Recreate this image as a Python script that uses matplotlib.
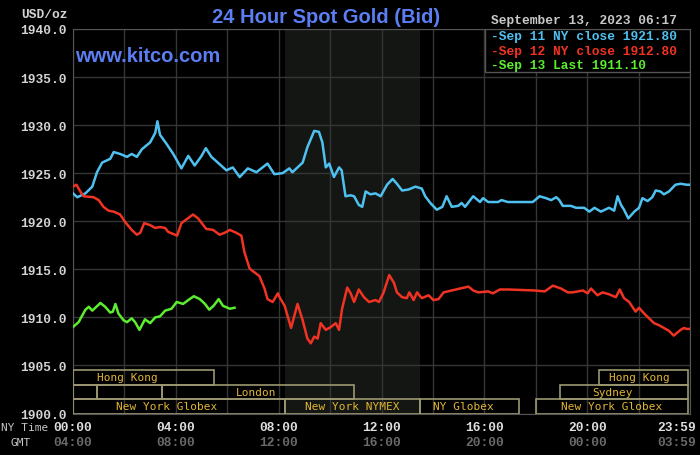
import numpy as np
import matplotlib.pyplot as plt
from matplotlib.patches import Rectangle
import matplotlib.transforms as mtransforms

# minutes after 00:00 NY time, price in USD/oz
blue_t = [0, 10, 29, 45, 56, 68, 87, 95, 110, 126,
          137, 149, 161, 180, 192, 197, 203, 219, 234, 253,
          269, 284, 300, 310, 323, 338, 358, 373, 389, 408,
          428, 454, 470, 489, 505, 512, 536, 547, 563, 574,
          582, 590, 598, 609, 621, 627, 636, 648, 656, 667,
          675, 683, 694, 706, 718, 733, 746, 756, 768, 783,
          799, 814, 822, 834, 849, 862, 872, 884, 899, 907,
          915, 934, 950, 957, 969, 992, 1000, 1015, 1073, 1089,
          1104, 1116, 1128, 1135, 1143, 1162, 1174, 1193, 1205, 1217,
          1232, 1251, 1263, 1271, 1279, 1286, 1296, 1310, 1321, 1329,
          1341, 1352, 1360, 1371, 1379, 1391, 1406, 1418, 1432, 1439]
blue_v = [1922.9, 1922.5, 1922.9, 1923.6, 1925.1, 1926.1, 1926.5, 1927.2, 1927.0, 1926.7,
          1927.0, 1926.7, 1927.5, 1928.2, 1929.2, 1930.4, 1929.0, 1928.0, 1927.0, 1925.5,
          1926.8, 1925.8, 1926.8, 1927.6, 1926.7, 1926.1, 1925.3, 1925.6, 1924.6, 1925.5,
          1925.1, 1926.0, 1924.9, 1925.0, 1925.5, 1925.1, 1926.1, 1927.7, 1929.4, 1929.3,
          1928.2, 1925.6, 1926.0, 1924.6, 1925.6, 1925.3, 1922.6, 1922.7, 1922.6, 1921.7,
          1921.5, 1923.1, 1922.8, 1922.9, 1922.6, 1923.8, 1924.4, 1923.9, 1923.2, 1923.3,
          1923.6, 1923.4, 1922.6, 1921.9, 1921.2, 1921.5, 1922.6, 1921.5, 1921.6, 1921.9,
          1921.5, 1922.6, 1922.0, 1922.4, 1922.0, 1922.0, 1922.2, 1922.0, 1922.0, 1922.6,
          1922.4, 1922.2, 1922.5, 1922.2, 1921.6, 1921.6, 1921.4, 1921.4, 1921.0, 1921.4,
          1921.0, 1921.4, 1921.1, 1922.6, 1921.7, 1921.2, 1920.3, 1921.0, 1921.4, 1922.4,
          1922.1, 1922.5, 1923.2, 1923.1, 1922.8, 1923.1, 1923.8, 1923.9, 1923.8, 1923.8]

red_t = [0, 8, 17, 25, 48, 60, 71, 83, 95, 110,
         122, 137, 149, 157, 166, 180, 192, 203, 215, 222,
         238, 243, 253, 265, 280, 292, 311, 327, 342, 354,
         366, 381, 393, 400, 412, 420, 435, 447, 454, 466,
         478, 482, 494, 509, 524, 536, 547, 555, 563, 571,
         578, 590, 602, 613, 621, 628, 640, 648, 656, 667,
         679, 691, 706, 714, 725, 738, 749, 756, 768, 779,
         785, 795, 803, 814, 830, 841, 853, 865, 884, 903,
         923, 934, 946, 969, 980, 996, 1015, 1077, 1101, 1120,
         1139, 1155, 1166, 1190, 1201, 1209, 1224, 1236, 1251, 1267,
         1276, 1286, 1298, 1313, 1321, 1333, 1356, 1367, 1391, 1402,
         1418, 1426, 1432, 1439]
red_v = [1923.6, 1923.8, 1923.1, 1922.6, 1922.5, 1922.2, 1921.5, 1921.1, 1921.0, 1920.7,
         1919.9, 1919.1, 1918.6, 1918.8, 1919.8, 1919.6, 1919.3, 1919.4, 1919.3, 1918.9,
         1918.6, 1918.5, 1919.8, 1920.2, 1920.7, 1920.3, 1919.2, 1919.1, 1918.6, 1918.8,
         1919.1, 1918.8, 1918.5, 1916.8, 1915.1, 1914.8, 1914.3, 1913.0, 1911.9, 1911.6,
         1912.5, 1912.1, 1911.2, 1908.9, 1911.4, 1909.7, 1907.8, 1907.3, 1908.0, 1907.8,
         1909.4, 1908.7, 1909.0, 1909.4, 1908.7, 1910.9, 1913.1, 1912.5, 1911.6, 1912.9,
         1912.1, 1911.6, 1911.8, 1911.6, 1912.6, 1914.4, 1913.6, 1912.6, 1912.1, 1912.0,
         1912.6, 1911.8, 1912.6, 1912.0, 1912.3, 1911.8, 1911.9, 1912.6, 1912.8, 1913.0,
         1913.2, 1912.8, 1912.6, 1912.7, 1912.5, 1912.9, 1912.9, 1912.8, 1912.7, 1913.3,
         1913.0, 1912.6, 1912.6, 1912.8, 1912.5, 1913.0, 1912.3, 1912.6, 1912.4, 1912.1,
         1912.9, 1912.0, 1911.6, 1910.6, 1911.0, 1910.4, 1909.4, 1909.2, 1908.6, 1908.1,
         1908.7, 1908.9, 1908.8, 1908.8]

green_t = [0, 13, 29, 37, 45, 64, 75, 87, 93, 99,
           106, 118, 126, 137, 145, 155, 168, 180, 192, 203,
           215, 230, 242, 257, 269, 282, 296, 308, 318, 328,
           340, 350, 366, 377]
green_v = [1909.0, 1909.5, 1910.8, 1911.1, 1910.7, 1911.5, 1911.1, 1910.5, 1910.6, 1911.4,
           1910.4, 1909.7, 1909.5, 1909.9, 1909.5, 1908.7, 1909.8, 1909.4, 1910.0, 1910.1,
           1910.7, 1910.9, 1911.6, 1911.4, 1911.8, 1912.2, 1911.9, 1911.4, 1910.8, 1911.2,
           1911.9, 1911.2, 1910.9, 1911.0]

legend_lines = ['-Sep 11 NY close 1921.80', '-Sep 12 NY close 1912.80', '-Sep 13 Last 1911.10']
line_colors = ['#4fc1f0', '#f03322', '#5cee2e']

ny_ticks = [0, 240, 480, 720, 960, 1200, 1439]
ny_labels = ['00:00', '04:00', '08:00', '12:00', '16:00', '20:00', '23:59']
gmt_labels = ['04:00', '08:00', '12:00', '16:00', '20:00', '00:00', '03:59']

# session boxes: (start, end, row, label, label x)
sessions = [
    (0, 330, 2, 'Hong Kong', 127),
    (1227, 1435, 2, 'Hong Kong', 1321),
    (0, 57, 1, '', 0),
    (57, 208, 1, '', 0),
    (208, 656, 1, 'London', 428),
    (1137, 1435, 1, 'Sydney', 1258),
    (0, 495, 0, 'New York Globex', 218),
    (495, 809, 0, 'New York NYMEX', 652),
    (809, 1040, 0, 'NY Globex', 911),
    (1081, 1435, 0, 'New York Globex', 1258),
]
pit_open, pit_close = 495, 809

W, H = 700, 456
mono = 'Liberation Mono'
sans = 'Liberation Sans'

fig = plt.figure(figsize=(7, 4.56), dpi=100, facecolor='black')
ax = fig.add_axes([73 / W, 1 - 414.5 / H, 617 / W, 384.5 / H])
ax.set_facecolor('black')
ax.set_xlim(0, 1439)
ax.set_ylim(1900, 1940)
ax.set_axisbelow(True)

ax.axvspan(pit_open, pit_close, color='#131613', zorder=0.2, lw=0)

ax.set_xticks(range(0, 1441, 120), minor=True)
ax.set_xticks([])
ax.set_yticks(np.arange(1900, 1941, 5))
ax.set_yticklabels(['%.1f' % v for v in np.arange(1900, 1941, 5)])
ax.grid(which='minor', axis='x', color='#353535', lw=1)
ax.grid(which='major', axis='y', color='#353535', lw=1)
ax.tick_params(axis='both', which='both', length=0)
ax.tick_params(axis='y', pad=4.3, labelsize=9.3, labelcolor='#d4d4d4')
for lab in ax.get_yticklabels():
    lab.set_fontfamily(mono)
    lab.set_fontweight('bold')
for sp in ax.spines.values():
    sp.set_color('#555555')

ax.plot(blue_t, blue_v, color=line_colors[0], lw=1.8, zorder=4)
ax.plot(red_t, red_v, color=line_colors[1], lw=1.8, zorder=4)
ax.plot(green_t, green_v, color=line_colors[2], lw=1.8, zorder=4)

for x0, x1, row, name, xc in sessions:
    y0 = 1900 + 1.5 * row
    ax.add_patch(Rectangle((x0, y0), x1 - x0, 1.5, fill=False, ec='#9c9870', lw=1.2, zorder=3))
    if name:
        ax.text(xc, y0 + 0.75, name, ha='center', va='center', fontsize=8,
                family='DejaVu Sans Mono', color='#e0b634', zorder=3)

# legend box
ax.add_patch(Rectangle((0.6676, 0.889), 0.3324, 0.111, transform=ax.transAxes,
                       fc='black', ec='#555555', lw=1, zorder=5))
for i, (txt, c) in enumerate(zip(legend_lines, line_colors)):
    ax.text(0.6775, 0.981 - i * 0.0372, txt, transform=ax.transAxes, ha='left', va='center',
            fontsize=9.3, family=mono, fontweight='bold', color=c, zorder=6)

# x labels, two rows
xt = ax.get_xaxis_transform()
for i, (x, a, b) in enumerate(zip(ny_ticks, ny_labels, gmt_labels)):
    tr = xt
    ha = 'center'
    if i == len(ny_ticks) - 1:
        tr = mtransforms.offset_copy(xt, fig=fig, x=6, y=0, units='dots')
        ha = 'right'
    ax.text(x, -0.0351, a, transform=tr, ha=ha, va='center', fontsize=9.3,
            family=mono, fontweight='bold', color='#e0e0e0', clip_on=False)
    ax.text(x, -0.0741, b, transform=tr, ha=ha, va='center', fontsize=9.3,
            family=mono, fontweight='bold', color='#6a6a6a', clip_on=False)

fig.text(1.3 / W, 1 - 428 / H, 'NY Time', ha='left', va='center', fontsize=8,
         family='DejaVu Sans Mono', color='#c4c4c4')
fig.text(20.5 / W, 1 - 443 / H, 'GMT', ha='center', va='center', fontsize=8,
         family='DejaVu Sans Mono', color='#c4c4c4')
fig.text(67.3 / W, 1 - 14.5 / H, 'USD/oz', ha='right', va='center', fontsize=9.3,
         family=mono, fontweight='bold', color='#d4d4d4')
fig.text(491 / W, 1 - 21 / H, 'September 13, 2023 06:17', ha='left', va='center',
         fontsize=9.3, family=mono, fontweight='bold', color='#c8c8c8')
fig.text(326.5 / W, 1 - 22.7 / H, '24 Hour Spot Gold (Bid)', ha='center', va='baseline',
         fontsize=14.5, family=sans, fontweight='bold', color='#5b7ef3')
fig.text(75 / W, 1 - 61.7 / H, 'www.kitco.com', ha='left', va='baseline',
         fontsize=14.5, family=sans, fontweight='bold', color='#5b7ef3')

fig.savefig('out.png', dpi=100, facecolor='black')
